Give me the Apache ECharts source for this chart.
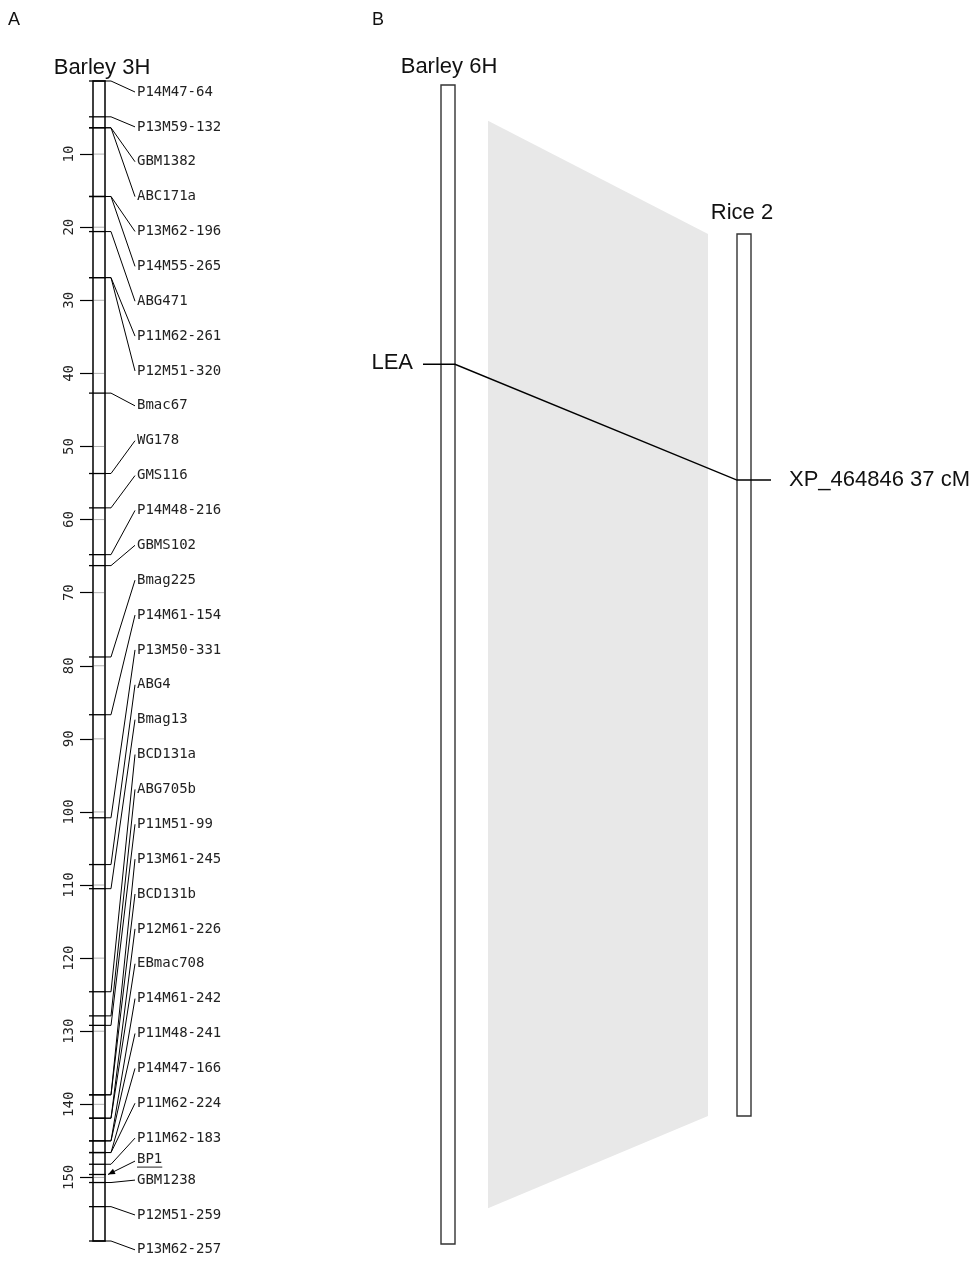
<!DOCTYPE html>
<html><head><meta charset="utf-8">
<script src="https://cdn.jsdelivr.net/npm/echarts@6/dist/echarts.min.js"></script>
<style>html,body{margin:0;padding:0;background:#fff}#c{width:980px;height:1262px}</style>
</head><body><div id="c"></div>
<script>
// ---------------- DATA ----------------
// Panel A: Barley 3H genetic map (cM)
const barley3HMarkers = ['P14M47-64','P13M59-132','GBM1382','ABC171a','P13M62-196','P14M55-265','ABG471','P11M62-261','P12M51-320','Bmac67','WG178','GMS116','P14M48-216','GBMS102','Bmag225','P14M61-154','P13M50-331','ABG4','Bmag13','BCD131a','ABG705b','P11M51-99','P13M61-245','BCD131b','P12M61-226','EBmac708','P14M61-242','P11M48-241','P14M47-166','P11M62-224','P11M62-183','BP1','GBM1238','P12M51-259','P13M62-257'];
const barley3HPos = [0,4.9,6.4,6.4,15.8,15.8,20.6,26.9,26.9,42.7,53.7,58.4,64.8,66.3,78.8,86.7,100.8,107.2,110.5,124.6,127.9,129.2,138.7,138.7,141.9,141.9,145.0,145.0,146.6,146.6,148.2,149.6,150.7,154.0,158.7];
const barley3HTicks = [10,20,30,40,50,60,70,80,90,100,110,120,130,140,150];
const barley3HLength = 158.7;
const highlightMarker = 'BP1';

// Panel B: Barley 6H vs Rice 2
const barley6HLength = 158.5;
const rice2Length = 132.6;
const syntenyBarley6H = [4.9, 153.6];
const syntenyRice2 = [0, 132.6];
const orthologNames = ['LEA', 'XP_464846 37 cM'];
const orthologBarley6H = [38.2];
const orthologRice2 = [37];

// ---------------- LAYOUT / STYLE ----------------
const MONO = '"DejaVu Sans Mono", monospace';
const SANS = '"Liberation Sans", Arial, sans-serif';
const LABEL_FIRST = 11, LABEL_GAP = 34.87, LABEL_GAP_TIGHT = 21;
const tightLabels = new Set(['BP1', 'GBM1238']);
const labelOffsets = [];
barley3HMarkers.forEach((n, i) => {
  labelOffsets.push(i === 0 ? LABEL_FIRST : labelOffsets[i - 1] + (tightLabels.has(n) ? LABEL_GAP_TIGHT : LABEL_GAP));
});

function txt(text, x, y, font, align, valign, fill) {
  return {type: 'text', style: {text: text, x: x, y: y, font: font, fill: fill || '#111',
    textAlign: align, textVerticalAlign: valign, align: align, verticalAlign: valign}};
}

function barRender(stroke, lw, inner) {
  return function (params, api) {
    const p0 = api.coord([0, 0]);
    const p1 = api.coord([1, api.value(1)]);
    const ch = [{type: 'rect', shape: {x: p0[0], y: p0[1], width: p1[0] - p0[0], height: p1[1] - p0[1]},
      style: {fill: '#fff', stroke: stroke, lineWidth: lw}}];
    (inner || []).forEach(t => {
      const y = api.coord([0, t])[1];
      ch.push({type: 'line', shape: {x1: p0[0] + 1, y1: y, x2: p1[0] - 1, y2: y}, style: {stroke: '#b0b0b0', lineWidth: 1}});
    });
    return {type: 'group', children: ch};
  };
}

function markerRender(params, api) {
  const i = params.dataIndex;
  const name = barley3HMarkers[i];
  const y = api.coord([0, api.value(1)])[1];
  const xl = api.coord([0, 0])[0], xr = api.coord([1, 0])[0], top = api.coord([0, 0])[1];
  const ly = top + labelOffsets[i];
  const tx = xr + 32;
  const ch = [{type: 'line', shape: {x1: xl - 4, y1: y, x2: xr + 1, y2: y}, style: {stroke: '#000', lineWidth: 1.3}}];
  if (name === highlightMarker) {
    const sx = tx - 2, sy = ly + 2, ex = xr + 3, ey = y;
    ch.push({type: 'line', shape: {x1: sx, y1: sy, x2: ex, y2: ey}, style: {stroke: '#000', lineWidth: 1}});
    const a = Math.atan2(ey - sy, ex - sx), L = 7, W = 3;
    ch.push({type: 'polygon', shape: {points: [[ex, ey],
      [ex - L * Math.cos(a) + W * Math.sin(a), ey - L * Math.sin(a) - W * Math.cos(a)],
      [ex - L * Math.cos(a) - W * Math.sin(a), ey - L * Math.sin(a) + W * Math.cos(a)]]}, style: {fill: '#000'}});
    ch.push({type: 'line', shape: {x1: tx, y1: ly + 8, x2: tx + name.length * 8.43, y2: ly + 8}, style: {stroke: '#222', lineWidth: 1}});
  } else {
    ch.push({type: 'polyline', shape: {points: [[xr + 1, y], [xr + 6, y], [tx - 2, ly]]}, style: {stroke: '#000', lineWidth: 1, fill: 'none'}});
  }
  ch.push(txt(name, tx, ly, '14px ' + MONO, 'left', 'middle', '#222'));
  return {type: 'group', children: ch};
}

const chart = echarts.init(document.getElementById('c'), null, {renderer: 'canvas', width: 980, height: 1262});

chart.setOption({
  animation: false,
  backgroundColor: '#fff',
  grid: [
    {left: 93, top: 81, width: 12, height: 1160},
    {left: 441, top: 85, width: 14, height: 1159},
    {left: 737, top: 234, width: 14, height: 882}
  ],
  xAxis: [0, 1, 2].map(g => ({type: 'value', gridIndex: g, min: 0, max: 1, show: false})),
  yAxis: [
    {type: 'value', gridIndex: 0, inverse: true, min: 0, max: barley3HLength, interval: 10, position: 'left',
     axisLine: {show: false}, splitLine: {show: false},
     axisTick: {show: true, length: 13, customValues: barley3HTicks, lineStyle: {color: '#000', width: 1.2}},
     axisLabel: {show: true, rotate: 90, margin: 17, customValues: barley3HTicks, color: '#222',
       fontFamily: MONO, fontSize: 14,
       formatter: v => (barley3HTicks.indexOf(v) >= 0 ? String(v) : '')}},
    {type: 'value', gridIndex: 1, inverse: true, min: 0, max: barley6HLength, show: false},
    {type: 'value', gridIndex: 2, inverse: true, min: 0, max: rice2Length, show: false}
  ],
  series: [
    {type: 'custom', name: 'Barley 3H', xAxisIndex: 0, yAxisIndex: 0, data: [[0, barley3HLength]],
     renderItem: barRender('#000', 1.5, barley3HTicks), z: 2},
    {type: 'custom', name: 'markers', xAxisIndex: 0, yAxisIndex: 0, clip: false,
     data: barley3HPos.map(p => [0, p]), renderItem: markerRender, z: 3},
    {type: 'custom', name: 'Barley 6H', xAxisIndex: 1, yAxisIndex: 1, data: [[0, barley6HLength]],
     renderItem: barRender('#333', 1.4), z: 2},
    {type: 'custom', name: 'Rice 2', xAxisIndex: 2, yAxisIndex: 2, data: [[0, rice2Length]],
     renderItem: barRender('#333', 1.4), z: 2}
  ]
});

// second pass: cross-axis elements positioned via the axes' scales
const P = (g, y, x) => chart.convertToPixel({xAxisIndex: g, yAxisIndex: g}, [x || 0, y]);
const bL = P(1, 0, 0)[0], bR = P(1, 0, 1)[0];
const rL = P(2, 0, 0)[0], rR = P(2, 0, 1)[0];
const by = v => P(1, v)[1];
const ry = v => P(2, v)[1];
const blockL = bR + 33, blockR = rL - 29;
const yLea = by(orthologBarley6H[0]), yXp = ry(orthologRice2[0]);
const aL = P(0, 0, 0)[0], aR = P(0, 0, 1)[0], aTop = P(0, 0)[1];

chart.setOption({
  graphic: [
    {type: 'polygon', z: 0, shape: {points: [
      [blockL, by(syntenyBarley6H[0])], [blockR, ry(syntenyRice2[0])],
      [blockR, ry(syntenyRice2[1])], [blockL, by(syntenyBarley6H[1])]]},
     style: {fill: '#e8e8e8'}},
    {type: 'polyline', z: 10, shape: {points: [[bL - 18, yLea], [bR, yLea], [rL, yXp], [rR + 20, yXp]]},
     style: {stroke: '#000', lineWidth: 1.5, fill: 'none'}},
    Object.assign(txt(orthologNames[0], bL - 28, yLea - 1, '22px ' + SANS, 'right', 'middle', '#111'), {z: 10}),
    Object.assign(txt(orthologNames[1], rR + 38, yXp, '22px ' + SANS, 'left', 'middle', '#111'), {z: 10}),
    Object.assign(txt('Barley 3H', (aL + aR) / 2 + 3, aTop - 13, '22px ' + SANS, 'center', 'middle', '#111'), {z: 10}),
    Object.assign(txt('Barley 6H', (bL + bR) / 2 + 1, P(1, 0)[1] - 18, '22px ' + SANS, 'center', 'middle', '#111'), {z: 10}),
    Object.assign(txt('Rice 2', (rL + rR) / 2 - 2, P(2, 0)[1] - 21, '22px ' + SANS, 'center', 'middle', '#111'), {z: 10}),
    Object.assign(txt('A', 14, 20, '18px ' + SANS, 'center', 'middle', '#111'), {z: 10}),
    Object.assign(txt('B', 378, 20, '18px ' + SANS, 'center', 'middle', '#111'), {z: 10})
  ]
});
</script>
</body></html>
